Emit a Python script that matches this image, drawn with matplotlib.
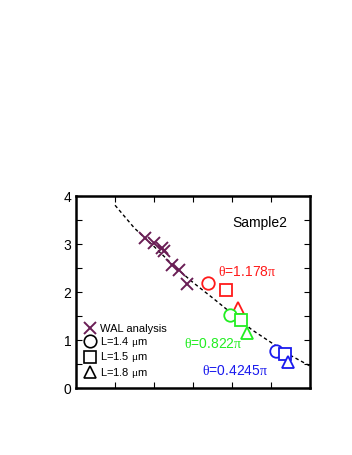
import matplotlib
matplotlib.use("Agg")
import matplotlib.pyplot as plt
from matplotlib.lines import Line2D
from matplotlib.ticker import MultipleLocator, FixedLocator, NullFormatter

plt.rcParams['font.family'] = ['Liberation Sans', 'DejaVu Sans']
plt.rcParams['mathtext.fontset'] = 'custom'
plt.rcParams['mathtext.it'] = 'Liberation Serif'
plt.rcParams['mathtext.rm'] = 'Liberation Serif'

# WAL analysis points
wal_x = [1.77, 2.01, 2.20, 2.26, 2.45, 2.65, 2.84]
wal_y = [3.13, 3.03, 2.91, 2.86, 2.56, 2.46, 2.16]

# guide curve
curve_x = [1.0, 1.5, 2.0, 2.5, 3.0, 3.5, 4.0, 4.5, 5.0, 5.5, 6.0]
curve_y = [3.81, 3.33, 2.95, 2.55, 2.20, 1.88, 1.55, 1.22, 0.95, 0.68, 0.46]

# theta groups: circle / square / triangle points per colour
theta_labels = ["1.178", "0.822", "0.4245"]
theta_colors = ["#ff1a1a", "#22ee22", "#1a1aee"]
circle_x = [3.38, 3.95, 5.13]
circle_y = [2.19, 1.52, 0.78]
square_x = [3.84, 4.23, 5.36]
square_y = [2.04, 1.42, 0.72]
triangle_x = [4.16, 4.39, 5.44]
triangle_y = [1.67, 1.14, 0.55]
label_x = [3.64, 2.77, 3.22]
label_y = [2.42, 0.91, 0.36]

length_labels = ["1.4", "1.5", "1.8"]

fig = plt.figure(figsize=(3.52, 4.55), dpi=100)
ax = fig.add_axes([0.216, 0.147, 0.665, 0.422])

ax.plot(curve_x, curve_y, color='black', lw=1.0, ls=(0, (2.5, 2)))
ax.plot(wal_x, wal_y, ls='none', marker='x', ms=9, mew=1.4, color='#6a1e55')

for i in range(3):
    c = theta_colors[i]
    ax.plot(circle_x[i], circle_y[i], marker='o', ms=9, mfc='white', mec=c, mew=1.3)
    ax.plot(square_x[i], square_y[i], marker='s', ms=8, mfc='white', mec=c, mew=1.3)
    ax.plot(triangle_x[i], triangle_y[i], marker='^', ms=9, mfc='white', mec=c, mew=1.3)
    ax.text(label_x[i], label_y[i], r"$\theta$=" + theta_labels[i] + r"$\pi$",
            color=c, fontsize=10, ha='left', va='center')

ax.text(4.72, 3.44, "Sample2", fontsize=10, ha='center', va='center')

handles = [Line2D([], [], ls='none', marker='x', ms=8, mew=1.4, color='#6a1e55')]
for m in ['o', 's', '^']:
    handles.append(Line2D([], [], ls='none', marker=m, ms=9, mfc='white', mec='black', mew=1.2))
labels = ["WAL analysis"] + ["L=" + l + r" $\mu$m" for l in length_labels]
ax.legend(handles, labels, loc='lower left', bbox_to_anchor=(0.02, 0.02), frameon=False,
          fontsize=8, handlelength=0.9, handletextpad=0.4, labelspacing=0.12,
          borderpad=0.2, borderaxespad=0.2)

ax.set_xlim(0, 6)
ax.set_ylim(0, 4)
ax.xaxis.set_major_locator(FixedLocator([1, 2, 3, 4, 5]))
ax.xaxis.set_major_formatter(NullFormatter())
ax.yaxis.set_major_locator(MultipleLocator(1))
ax.yaxis.set_minor_locator(MultipleLocator(0.5))
ax.tick_params(which='both', direction='in', top=True, right=True, width=0.8, labelsize=10)
ax.tick_params(which='major', length=4)
ax.tick_params(which='minor', length=4)
for s in ax.spines.values():
    s.set_linewidth(1.8)

plt.savefig("out.png", dpi=100)
